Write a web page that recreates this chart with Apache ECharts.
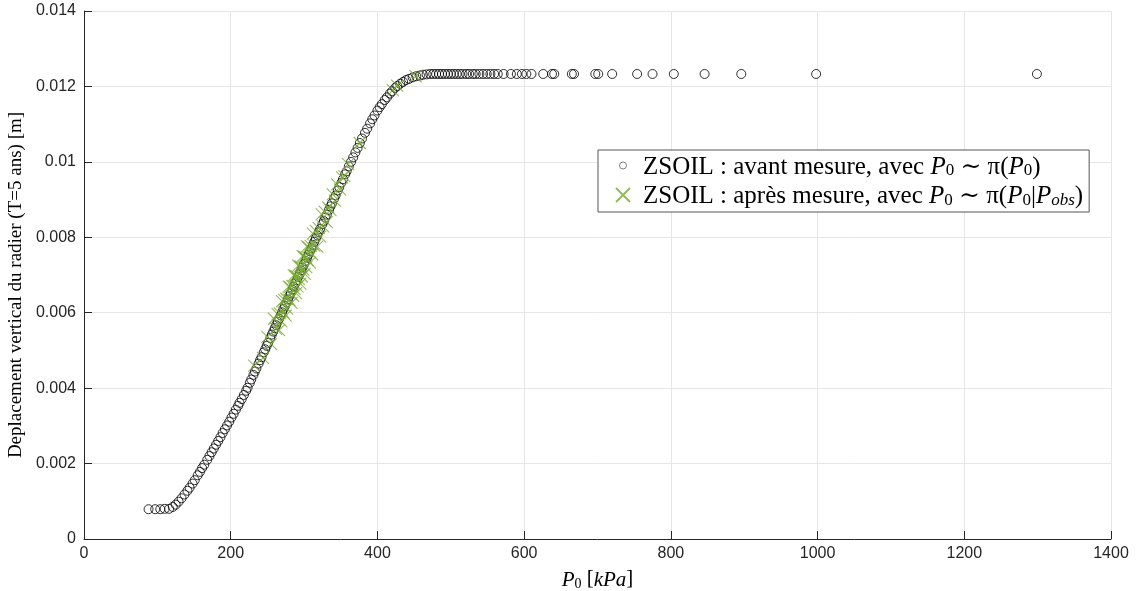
<!DOCTYPE html>
<html><head><meta charset="utf-8">
<script src="https://cdn.jsdelivr.net/npm/echarts@6/dist/echarts.min.js"></script>
<style>html,body{margin:0;padding:0;background:#fff}#c{width:1136px;height:591px}</style>
</head><body><div id="c"></div>
<script>
// ZSOIL : avant mesure (prior samples of P0) — P0 [kPa]
const avantP0 = [88,97,104,110,116,121,125,129,133,137,141,144,148,151,155,158,161,164,168,171,174,177,180,183,186,189,192,195,198,201,204,207,210,212,215,218,221,223,226,228,231,
233,235,238,240,242,245,247,249,251,254,256,258,260,262,264,266,268,270,272,274,276,278,280,282,284,286,288,290,292,294,296,298,300,302,304,306,308,310,312,314,316,318,320,322,325,327,329,331,334,336,338,341,343,346,348,351,353,356,358,361,
364,367,370,373,376,379,383,386,390,393,396,400,403,406,410,413,417,420,424,427,431,435,439,443,448,453,458,462,467,472,
476,480,484,488,492,496,500,504,508,512,516,521,525,530,534,539,544,549,554,559,564,572,582,590,597,603,610,626,638,641,665,668,697,701,720,754,775,804,846,896,998,1299];
// Deplacement vertical [m]
const avantDepl = [0.00079,0.00079,0.00079,0.00080,0.00080,0.00085,0.00091,0.00099,0.00108,0.00118,0.00128,0.00136,0.00147,0.00156,0.00169,0.00178,0.00188,0.00197,0.00210,0.00220,0.00230,0.00240,0.00250,0.00260,0.00270,0.00281,0.00291,0.00301,0.00311,0.00322,0.00332,0.00343,0.00353,0.00361,0.00371,0.00382,0.00393,0.00401,0.00414,0.00423,0.00435,
0.00444,0.00452,0.00465,0.00474,0.00482,0.00495,0.00503,0.00512,0.00520,0.00533,0.00542,0.00550,0.00559,0.00567,0.00576,0.00584,0.00593,0.00601,0.00610,0.00618,0.00627,0.00635,0.00644,0.00652,0.00661,0.00669,0.00678,0.00686,0.00695,0.00703,0.00712,0.00720,0.00729,0.00737,0.00746,0.00754,0.00763,0.00771,0.00780,0.00788,0.00797,0.00805,0.00814,0.00822,0.00835,0.00843,0.00852,0.00860,0.00873,0.00882,0.00890,0.00903,0.00911,0.00924,0.00933,0.00945,0.00954,0.00967,0.00975,0.00988,
0.01000,0.01012,0.01025,0.01037,0.01050,0.01062,0.01077,0.01088,0.01102,0.01113,0.01123,0.01136,0.01145,0.01153,0.01164,0.01171,0.01181,0.01187,0.01196,0.01201,0.01207,0.01212,0.01217,0.01220,0.01224,0.01227,0.01229,0.01231,0.01232,0.01233,
0.01233,0.01233,0.01233,0.01233,0.01233,0.01233,0.01233,0.01233,0.01233,0.01233,0.01233,0.01233,0.01233,0.01233,0.01233,0.01233,0.01233,0.01233,0.01233,0.01233,0.01233,0.01233,0.01233,0.01233,0.01233,0.01233,0.01233,0.01233,0.01233,0.01233,0.01233,0.01233,0.01233,0.01233,0.01233,0.01233,0.01233,0.01233,0.01233,0.01233,0.01233,0.01233];

// ZSOIL : après mesure (posterior samples of P0)
const apresP0 = [232,244,250,255,259,262,264,266,267,269,270,272,273,275,276,277,279,280,281,283,284,285,286,287,288,289,290,291,292,293,294,295,296,297,298,299,300,301,302,303,304,305,306,308,309,311,312,314,316,318,320,322,324,326,328,331,333,336,339,342,345,349,352,355,360,376,421,427,452];
const apresDepl = [0.00460,0.00480,0.00536,0.00517,0.00584,0.00557,0.00596,0.00554,0.00598,0.00577,0.00631,0.00600,0.00634,0.00592,0.00637,0.00611,0.00669,0.00634,0.00668,0.00626,0.00671,0.00645,0.00699,0.00663,0.00698,0.00652,0.00696,0.00670,0.00725,0.00689,0.00723,0.00677,0.00722,0.00696,0.00750,0.00714,0.00749,0.00703,0.00747,0.00721,0.00776,0.00740,0.00774,0.00733,0.00777,0.00755,0.00810,0.00778,0.00817,0.00775,0.00824,0.00802,0.00861,0.00829,0.00868,0.00840,0.00879,0.00872,0.00914,0.00897,0.00940,0.00927,0.00959,0.00962,0.00994,0.01050,0.01190,0.01202,0.01227];

const xMin = 0, xMax = 1400, xStep = 200;
const yMin = 0, yMax = 0.014, yStep = 0.002;

const avantData = avantP0.map((p, i) => [p, avantDepl[i]]);
const apresData = apresP0.map((p, i) => [p, apresDepl[i]]);

const serif = '"Liberation Serif", "DejaVu Serif", serif';
const sans = '"Liberation Sans", Arial, sans-serif';
const green = '#77AC30';
const axisCol = '#262626';

const richLeg = {
  sp: {width: 8, lineHeight: 28},
  r: {fontFamily: serif, fontSize: 25, color: '#000', verticalAlign: 'bottom', lineHeight: 28},
  i: {fontFamily: serif, fontSize: 25, fontStyle: 'italic', color: '#000', verticalAlign: 'bottom', lineHeight: 28},
  s: {fontFamily: serif, fontSize: 17, color: '#000', verticalAlign: 'bottom', lineHeight: 22},
  si: {fontFamily: serif, fontSize: 17, fontStyle: 'italic', color: '#000', verticalAlign: 'bottom', lineHeight: 22}
};

const chart = echarts.init(document.getElementById('c'), null, {renderer: 'canvas'});
chart.setOption({
  backgroundColor: '#fff',
  animation: false,
  grid: {left: 84, right: 25, top: 11, bottom: 52, containLabel: false, outerBoundsMode: 'none'},
  xAxis: {
    type: 'value', min: xMin, max: xMax, interval: xStep,
    name: '{i|P}{s|0} [{i|kPa}]', nameLocation: 'middle', nameGap: 24,
    nameTextStyle: {rich: {
      i: {fontFamily: serif, fontSize: 21, fontStyle: 'italic', color: '#000', verticalAlign: 'bottom', lineHeight: 24},
      s: {fontFamily: serif, fontSize: 14, color: '#000', verticalAlign: 'bottom', lineHeight: 18}
    }, fontFamily: serif, fontSize: 21, color: '#000', verticalAlign: 'bottom', lineHeight: 24},
    axisLine: {show: true, lineStyle: {color: axisCol, width: 1}},
    axisTick: {show: true, inside: true, length: 8, lineStyle: {color: axisCol}},
    axisLabel: {fontFamily: sans, fontSize: 16, color: axisCol, margin: 7, formatter: v => String(v)},
    splitLine: {show: true, lineStyle: {color: '#e6e6e6', width: 1}}
  },
  yAxis: {
    type: 'value', min: yMin, max: yMax, interval: yStep,
    name: 'Deplacement vertical du radier (T=5 ans) [m]', nameLocation: 'middle', nameGap: 50, nameRotate: 90,
    nameTextStyle: {fontFamily: serif, fontSize: 19, color: '#000', padding: [0, 20, 0, 0]},
    axisLine: {show: true, lineStyle: {color: axisCol, width: 1}},
    axisTick: {show: true, inside: true, length: 8, lineStyle: {color: axisCol}},
    axisLabel: {fontFamily: sans, fontSize: 16, color: axisCol, margin: 8,
      formatter: v => String(+v.toFixed(3))},
    splitLine: {show: true, lineStyle: {color: '#e6e6e6', width: 1}}
  },
  legend: {
    orient: 'vertical', left: 598, top: 150,
    backgroundColor: '#fff', borderColor: '#555', borderWidth: 1, borderRadius: 0,
    padding: [3, 6, 3, 17], itemGap: 3, itemWidth: 14, itemHeight: 14,
    data: [
      {name: 'avant', icon: 'path://M0,0M14,14M3.5,7A3.5,3.5,0,1,1,10.5,7A3.5,3.5,0,1,1,3.5,7Z',
       itemStyle: {color: 'rgba(0,0,0,0)', borderColor: '#222', borderWidth: 0.7}},
      {name: 'apres', icon: 'path://M0,0L10,10M10,0L0,10'}
    ],
    formatter: n => n === 'avant'
      ? '{sp|}{r|ZSOIL : avant mesure, avec }{i|P}{s|0}{r| ∼ π(}{i|P}{s|0}{r|)}'
      : '{sp|}{r|ZSOIL : après mesure, avec }{i|P}{s|0}{r| ∼ π(}{i|P}{s|0}{r||}{i|P}{si|obs}{r|)}',
    textStyle: {rich: richLeg, fontFamily: serif, fontSize: 25}
  },
  series: [
    {
      name: 'avant', type: 'scatter', data: avantData,
      symbol: 'circle', symbolSize: 9,
      itemStyle: {color: 'rgba(0,0,0,0)', borderColor: '#000', borderWidth: 1},
      z: 2
    },
    {
      name: 'apres', type: 'scatter', data: apresData,
      symbol: 'path://M0,0L10,10M10,0L0,10', symbolSize: 12,
      itemStyle: {color: 'rgba(0,0,0,0)', borderColor: green, borderWidth: 1.1},
      z: 3
    }
  ]
});
</script>
</body></html>
